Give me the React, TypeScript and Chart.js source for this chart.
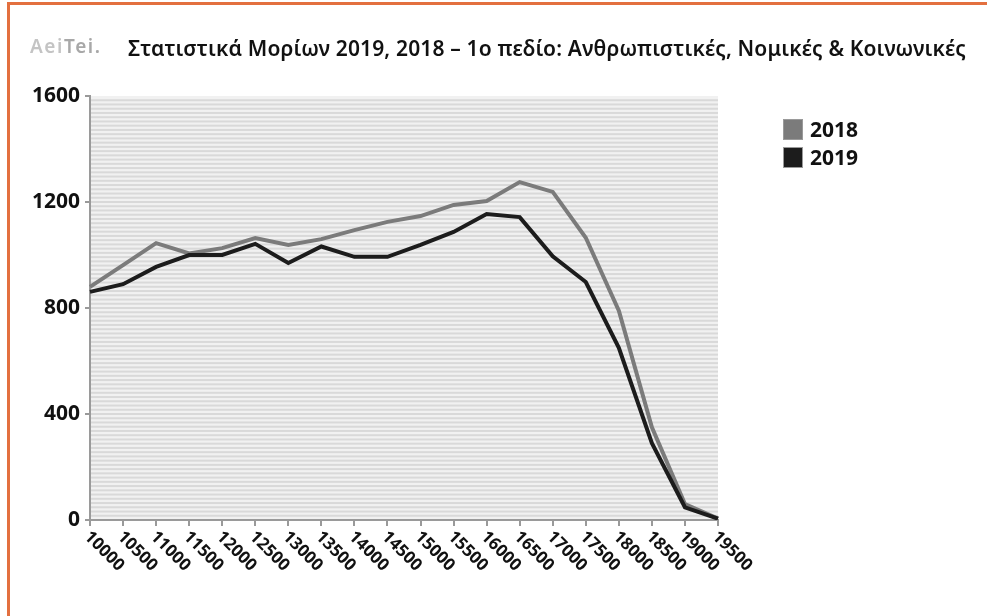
import { useEffect, useRef } from 'react';
import { Chart, registerables } from 'chart.js';

Chart.register(...registerables);

const categories = ['10000', '10500', '11000', '11500', '12000', '12500', '13000', '13500', '14000', '14500', '15000', '15500', '16000', '16500', '17000', '17500', '18000', '18500', '19000', '19500'];
const series2018 = [880, 962, 1045, 1006, 1026, 1064, 1038, 1060, 1094, 1125, 1147, 1189, 1204, 1275, 1238, 1065, 790, 350, 60, 5];
const series2019 = [861, 890, 955, 1000, 1000, 1042, 970, 1032, 993, 993, 1038, 1087, 1155, 1143, 995, 898, 650, 290, 48, 5];
const yTickValues = [0, 400, 800, 1200, 1600];
const stripeStep = 16;
const titleLogoA = 'Aei';
const titleLogoB = 'Tei.';
const titleText = 'Στατιστικά Μορίων 2019, 2018 – 1ο πεδίο: Ανθρωπιστικές, Νομικές & Κοινωνικές';
const seriesNames = ['2018', '2019'];
const seriesColors = ['#7b7b7b', '#1c1c1c'];

const FONT = "'Noto Sans', 'DejaVu Sans', sans-serif";

const stripesPlugin = {
  id: 'stripes',
  beforeDraw(chart: any) {
    const { ctx, chartArea } = chart;
    const y = chart.scales.y;
    if (!chartArea || !y) return;
    ctx.save();
    ctx.fillStyle = '#f1f1f1';
    ctx.fillRect(chartArea.left, chartArea.top, chartArea.right - chartArea.left, chartArea.bottom - chartArea.top);
    ctx.fillStyle = '#d9d9d9';
    for (let v = stripeStep; v < y.max; v += stripeStep) {
      const py = y.getPixelForValue(v);
      ctx.fillRect(chartArea.left, py - 1, chartArea.right - chartArea.left, 2);
    }
    ctx.restore();
  },
};

const xLabelsPlugin = {
  id: 'xLabels',
  afterDraw(chart: any) {
    const { ctx, chartArea } = chart;
    const x = chart.scales.x;
    if (!x) return;
    ctx.save();
    ctx.fillStyle = '#111';
    ctx.font = `bold 17px ${FONT}`;
    ctx.textAlign = 'left';
    ctx.textBaseline = 'middle';
    categories.forEach((label, i) => {
      const px = x.getPixelForTick(i);
      ctx.save();
      ctx.translate(px - 3, chartArea.bottom + 14);
      ctx.rotate(Math.PI / 4);
      ctx.fillText(label, 0, 0);
      ctx.restore();
    });
    ctx.restore();
  },
};

export default function App() {
  const canvasRef = useRef<HTMLCanvasElement | null>(null);

  useEffect(() => {
    if (!canvasRef.current) return;
    const chart = new Chart(canvasRef.current, {
      type: 'line',
      data: {
        labels: categories,
        datasets: [
          {
            label: seriesNames[0],
            data: series2018,
            borderColor: seriesColors[0],
            backgroundColor: seriesColors[0],
            borderWidth: 4,
            pointRadius: 0,
            tension: 0,
            order: 1,
          },
          {
            label: seriesNames[1],
            data: series2019,
            borderColor: seriesColors[1],
            backgroundColor: seriesColors[1],
            borderWidth: 4,
            pointRadius: 0,
            tension: 0,
            order: 0,
          },
        ],
      },
      options: {
        animation: false,
        responsive: false,
        maintainAspectRatio: false,
        layout: { padding: { top: 96, right: 269, bottom: 0, left: 0 } },
        plugins: {
          legend: { display: false },
          tooltip: { enabled: false },
          title: { display: false },
        },
        scales: {
          x: {
            type: 'category',
            offset: false,
            afterFit(s: any) {
              s.height = 96;
            },
            grid: { drawOnChartArea: false, drawTicks: true, tickLength: 6, color: '#9a9a9a', lineWidth: 2 },
            border: { display: true, color: '#9a9a9a', width: 2 },
            ticks: { display: false },
          },
          y: {
            min: 0,
            max: 1600,
            afterFit(s: any) {
              s.width = 90;
            },
            afterBuildTicks(s: any) {
              s.ticks = yTickValues.map((v) => ({ value: v }));
            },
            grid: { drawOnChartArea: false, drawTicks: true, tickLength: 5, color: '#9a9a9a', lineWidth: 2 },
            border: { display: true, color: '#9a9a9a', width: 2 },
            ticks: {
              color: '#111',
              padding: 5,
              font: { family: FONT, size: 21, weight: 'bold' },
              callback: (v: any) => String(v),
            },
          },
        },
      },
      plugins: [stripesPlugin, xLabelsPlugin],
    });
    return () => chart.destroy();
  }, []);

  return (
    <div style={{ position: 'absolute', left: 0, top: 0, width: 987, height: 616, background: '#fff', overflow: 'hidden' }}>
      <canvas ref={canvasRef} width={987} height={616} style={{ position: 'absolute', left: 0, top: 0, width: 987, height: 616 }} />
      <div style={{ position: 'absolute', left: 7, top: 2, width: 1000, height: 700, borderTop: '3px solid #e3703f', borderLeft: '3px solid #e3703f' }} />
      <div style={{ position: 'absolute', left: 30, top: 34, fontFamily: FONT, fontSize: 19, fontWeight: 600, lineHeight: '24px', letterSpacing: 1.6 }}>
        <span style={{ color: '#c4c4c4' }}>{titleLogoA}</span>
        <span style={{ color: '#a8a8a8' }}>{titleLogoB}</span>
      </div>
      <div style={{ position: 'absolute', left: 128, top: 34, fontFamily: FONT, fontSize: 21, fontWeight: 600, color: '#111', lineHeight: '28px', whiteSpace: 'nowrap', letterSpacing: 0.15 }}>
        {titleText}
      </div>
      {seriesNames.map((name, i) => (
        <div key={name} style={{ position: 'absolute', left: 783, top: 117 + i * 28, height: 24, display: 'flex', alignItems: 'center' }}>
          <div style={{ width: 18, height: 19, background: seriesColors[i], border: '1.5px solid #9a9a9a' }} />
          <span style={{ marginLeft: 7, fontFamily: FONT, fontSize: 21, fontWeight: 'bold', color: '#111', lineHeight: '24px' }}>{name}</span>
        </div>
      ))}
    </div>
  );
}
